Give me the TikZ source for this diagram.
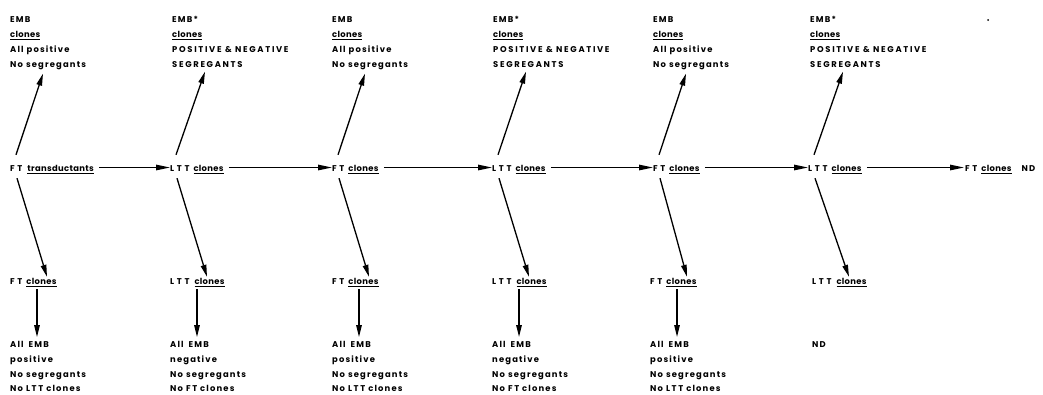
\documentclass[tikz,border=0pt]{standalone}
\usepackage{fontspec}
\setmainfont{Poppins}[LetterSpace=14]
\usetikzlibrary{arrows.meta}
\newcommand\ulx[1]{\setbox0\hbox{\addfontfeatures{LetterSpace=4}#1}\rlap{\rule[-2.6pt]{\wd0}{1.1pt}}\box0}
\newcommand\wcap[1]{{\addfontfeatures{LetterSpace=32}#1}}
\newcommand\mcap[1]{{\addfontfeatures{LetterSpace=20}#1}}
\tikzset{
  txt/.style={inner sep=0pt, font=\fontsize{8.4}{15}\selectfont\bfseries},
  lbl/.style={txt, anchor=base west, text height=6pt, text depth=0pt},
  blk/.style={txt, align=left, anchor=north west},
  lowblk/.style={txt, align=left, anchor=north west, font=\fontsize{8.4}{14.8}\selectfont\bfseries},
  arr/.style={line width=1.3pt, -{Triangle[length=12pt,width=5.5pt]}},
  harr/.style={line width=1.3pt, -{Triangle[length=14pt,width=5.5pt]}},
}
\begin{document}
\begin{tikzpicture}[x=1pt,y=-1pt]
\useasboundingbox (0,0) rectangle (1043,394);
% top blocks
\node[blk] (t1) at (10,16)  {EMB\\\ulx{clones}\\All positive\\No segregants};
\node[blk] (t2) at (172,16) {EMB*\\\ulx{clones}\\\mcap{POSITIVE \& NEGATIVE}\\\mcap{SEGREGANTS}};
\node[blk] (t3) at (332,16) {EMB\\\ulx{clones}\\All positive\\No segregants};
\node[blk] (t4) at (493,16) {EMB*\\\ulx{clones}\\\mcap{POSITIVE \& NEGATIVE}\\\mcap{SEGREGANTS}};
\node[blk] (t5) at (653,16) {EMB\\\ulx{clones}\\All positive\\No segregants};
\node[blk] (t6) at (810,16) {EMB*\\\ulx{clones}\\\mcap{POSITIVE \& NEGATIVE}\\\mcap{SEGREGANTS}};
% middle row
\node[lbl] (m1) at (10,171)  {\wcap{FT}\hspace{5pt}\ulx{transductants}};
\node[lbl] (m2) at (170,171) {\wcap{LTT}\hspace{4pt}\ulx{clones}};
\node[lbl] (m3) at (332,171) {\wcap{FT}\hspace{4pt}\ulx{clones}};
\node[lbl] (m4) at (492,171) {\wcap{LTT}\hspace{4pt}\ulx{clones}};
\node[lbl] (m5) at (653,171) {\wcap{FT}\hspace{4pt}\ulx{clones}};
\node[lbl] (m6) at (808,171) {\wcap{LTT}\hspace{4pt}\ulx{clones}};
\node[lbl] (m7) at (965,171) {\wcap{FT}\hspace{4pt}\ulx{clones}\hspace{10pt}ND};
% lower labels
\node[lbl] (b1) at (10,284)  {\wcap{FT}\hspace{4pt}\ulx{clones}};
\node[lbl] (b2) at (170,284) {\wcap{LTT}\hspace{5pt}\ulx{clones}};
\node[lbl] (b3) at (332,284) {\wcap{FT}\hspace{4pt}\ulx{clones}};
\node[lbl] (b4) at (492,284) {\wcap{LTT}\hspace{5pt}\ulx{clones}};
\node[lbl] (b5) at (650,284) {\wcap{FT}\hspace{4pt}\ulx{clones}};
\node[lbl] (b6) at (812,284) {\wcap{LTT}\hspace{5pt}\ulx{clones}};
% bottom blocks
\node[lowblk] (d1) at (10,341)  {All\hspace{5pt}EMB\\positive\\No segregants\\No \mcap{LTT} clones};
\node[lowblk] (d2) at (170,341) {All\hspace{5pt}EMB\\negative\\No segregants\\No \mcap{FT} clones};
\node[lowblk] (d3) at (332,341) {All\hspace{5pt}EMB\\positive\\No segregants\\No \mcap{LTT} clones};
\node[lowblk] (d4) at (492,341) {All\hspace{5pt}EMB\\negative\\No segregants\\No \mcap{FT} clones};
\node[lowblk] (d5) at (650,341) {All\hspace{5pt}EMB\\positive\\No segregants\\No \mcap{LTT} clones};
\node[lowblk] (d6) at (812,341) {ND};
% horizontal arrows
\draw[harr] ([shift={(5,-3.5)}]m1.base east) -- ([shift={(0,-3.5)}]m2.base west);
\draw[harr] ([shift={(5,-3.5)}]m2.base east) -- ([shift={(0,-3.5)}]m3.base west);
\draw[harr] ([shift={(5,-3.5)}]m3.base east) -- ([shift={(0,-3.5)}]m4.base west);
\draw[harr] ([shift={(5,-3.5)}]m4.base east) -- ([shift={(0,-3.5)}]m5.base west);
\draw[harr] ([shift={(5,-3.5)}]m5.base east) -- ([shift={(0,-3.5)}]m6.base west);
\draw[harr] ([shift={(5,-3.5)}]m6.base east) -- ([shift={(-1,-3.5)}]m7.base west);
% diagonal arrows
\foreach \i in {1,...,6}{
  \draw[arr] ([shift={(6,-10)}]m\i.north west) -- ([shift={(33,4)}]t\i.south west);
  \draw[arr] ([shift={(7,7)}]m\i.south west) -- ([shift={(37,-1)}]b\i.north west);
}
% vertical arrows
\foreach \i in {1,...,5}{
  \draw[arr] ([shift={(27,5)}]b\i.south west) -- ([shift={(27,-4)}]d\i.north west);
}
\fill (988,20) circle (1pt);
\end{tikzpicture}
\end{document}
